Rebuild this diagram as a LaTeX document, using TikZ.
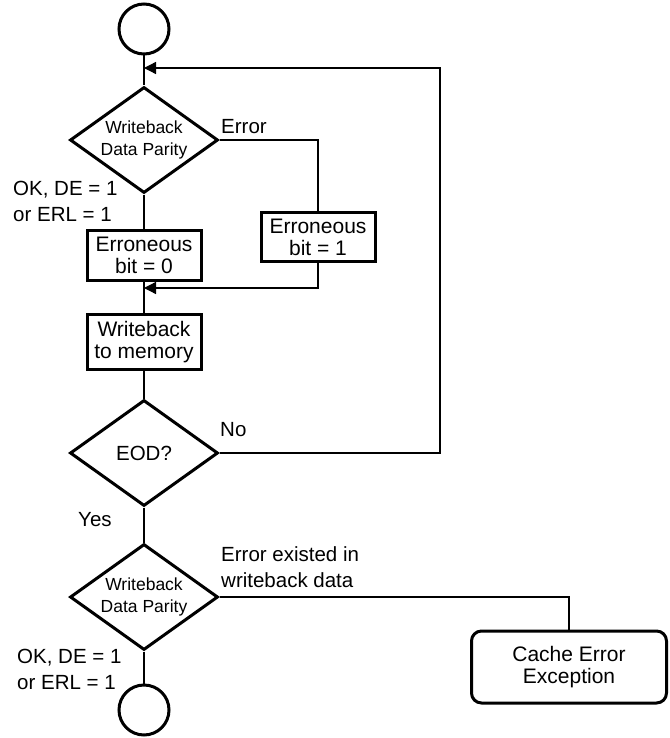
\documentclass[tikz,border=0pt]{standalone}
\usepackage{fontspec}
\setmainfont{Liberation Sans}
\usetikzlibrary{shapes.geometric,arrows.meta}
\begin{document}
\begin{tikzpicture}[x=1pt,y=-1pt,
  conn/.style={line width=1.3pt},
  arr/.style={conn,-{Triangle[length=12pt,width=12pt]}},
  term/.style={circle,draw,line width=3pt,minimum size=50pt,inner sep=0pt},
  dec/.style={diamond,draw,line width=3pt,minimum width=148pt,minimum height=106pt,aspect=1.396,inner sep=0pt,align=center,font=\fontsize{17.5}{22}\selectfont},
  proc/.style={rectangle,draw,line width=3pt,minimum width=114pt,minimum height=50pt,inner sep=0pt,align=center,font=\fontsize{21}{22}\selectfont},
  lbl/.style={anchor=base west,inner sep=0pt,font=\fontsize{20.5}{26}\selectfont}
]
\useasboundingbox (0,0) rectangle (669,738);
\node[term] (c1) at (144,29) {};
\coordinate (j1) at (144,68);
\node[dec] (d1) at (144,140) {Writeback\\Data Parity};
\node[proc] (e0) at (144,255) {Erroneous\\bit = 0};
\node[proc,minimum height=49pt] (e1) at (318,237) {Erroneous\\bit = 1};
\coordinate (j2) at (144,288);
\node[proc,minimum height=55pt] (wb) at (144,342) {Writeback\\to memory};
\node[dec,font=\fontsize{20.5}{22}\selectfont] (d2) at (144,453) {EOD?};
\node[dec] (d3) at (144,597) {Writeback\\Data Parity};
\node[term] (c2) at (144,710) {};
\node[draw,rounded corners=10pt,line width=3pt,minimum width=195pt,minimum height=72pt,inner sep=0pt,align=center,font=\fontsize{21}{22}\selectfont] (ce) at (569,667) {Cache Error\\Exception};
\coordinate (fb) at (440,68);

% connectors
\draw[conn] (c1.south) -- (d1.north);
\draw[conn] (d1.south) -- (e0.north);
\draw[conn] (e0.south) -- (wb.north);
\draw[conn] (wb.south) -- (d2.north);
\draw[conn] (d2.south) -- (d3.north);
\draw[conn] (d3.south) -- (c2.north);
\draw[conn] (d1.east) -| (e1.north);
\draw[arr] (e1.south) |- (j2);
\draw[arr] (d2.east) -| (fb) -- (j1);
\draw[conn] (d3.east) -| (ce.north);

% labels
\node[lbl] (lerr) at (221,134) {Error};
\node[lbl] (lok1) at (13,195) {OK, DE = 1};
\node[lbl] (lok2) at (13,221) {or ERL = 1};
\node[lbl] (lno) at (220,436) {No};
\node[lbl] (lyes) at (78,526) {Yes};
\node[lbl] (lex1) at (221,561) {Error existed in};
\node[lbl] (lex2) at (221,587) {writeback data};
\node[lbl] (lok3) at (17,663) {OK, DE = 1};
\node[lbl] (lok4) at (17,689) {or ERL = 1};
\end{tikzpicture}
\end{document}
